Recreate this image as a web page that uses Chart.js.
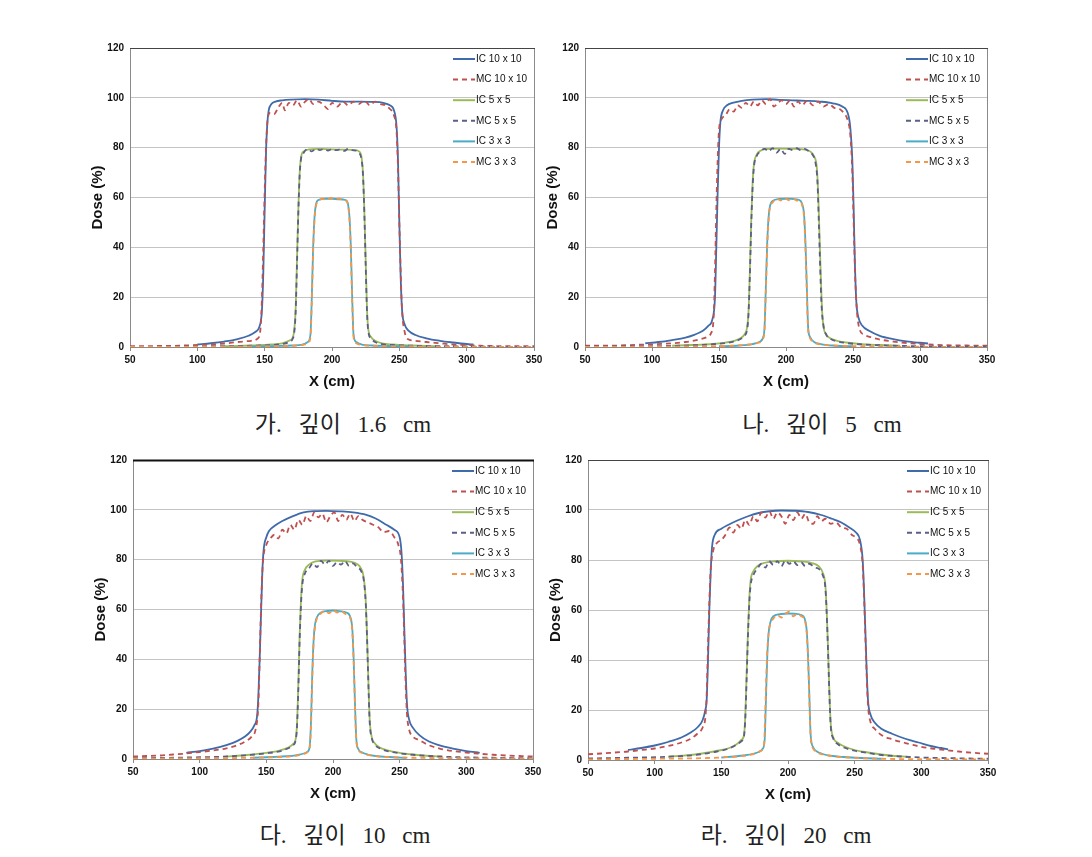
<!DOCTYPE html>
<html>
<head>
<meta charset="utf-8">
<script src="https://cdn.jsdelivr.net/npm/chart.js@4.4.1/dist/chart.umd.min.js"></script>
<style>
  body { margin: 0; background: #fff; width: 1092px; height: 857px; position: relative; overflow: hidden; }
  .panel { position: absolute; }
  .caption {
    position: absolute;
    font-family: 'Liberation Serif', 'Noto Sans CJK KR', serif;
    font-size: 23px;
    line-height: 28px;
    color: #222;
    word-spacing: 11px;
    white-space: nowrap;
    transform: translateX(-50%);
  }
</style>
</head>
<body>
<div class="panel" style="left:80px;top:36px"><canvas id="c1" width="470" height="360"></canvas></div>
<div class="panel" style="left:535px;top:36px"><canvas id="c2" width="468" height="360"></canvas></div>
<div class="panel" style="left:83px;top:448px"><canvas id="c3" width="466" height="360"></canvas></div>
<div class="panel" style="left:538px;top:448px"><canvas id="c4" width="466" height="361"></canvas></div>

<div class="caption" style="left:343px;top:411px">가. 깊이 1.6 cm</div>
<div class="caption" style="left:822px;top:411px">나. 깊이 5 cm</div>
<div class="caption" style="left:345px;top:822px">다. 깊이 10 cm</div>
<div class="caption" style="left:786px;top:822px">라. 깊이 20 cm</div>

<script>
// series names, colours and dash style
const seriesNames = ['IC 10 x 10', 'MC 10 x 10', 'IC 5 x 5', 'MC 5 x 5', 'IC 3 x 3', 'MC 3 x 3'];
const seriesColors = ['#3F6BAA', '#C0504D', '#9BBB59', '#5B5E86', '#4BACC6', '#F79646'];
const seriesDashed = [false, true, false, true, false, true];

const xTicks = [50, 100, 150, 200, 250, 300, 350];
const yTicks = [0, 20, 40, 60, 80, 100, 120];

// ---- depth 1.6 cm : [x (cm), dose (%)]
const ic10_16 = [[100,1],[110,1.5],[120,2.2],[130,3.2],[138,4.5],[143,6],[146,8],[148,15],[149,30],[150,55],[151,78],[152,90],[153,95],[155,97.5],[158,98.5],[163,99],[170,99.3],[180,99.5],[190,99.3],[200,98.8],[210,98.5],[220,98.5],[230,98.4],[238,98],[243,97],[246,95],[248,88],[249,75],[250,50],[251,28],[252,15],[254,9],[257,6.5],[262,4.8],[270,3.5],[280,2.5],[290,1.8],[300,1.2],[305,1]];
const mc10_16 = [[50,0.3],[60,0.3],[70,0.4],[80,0.4],[90,0.6],[100,0.8],[110,1],[120,1.4],[130,2],[140,2.5],[145,3.5],[147,8],[148,20],[149,40],[150,62],[151,80],[152,90],[154,94],[157,93.5],[160,96],[163,98],[165,95],[168,98],[171,97],[174,99],[177,96.5],[180,98.5],[183,99.5],[186,97.5],[190,98.5],[194,97],[197,95.5],[200,98],[204,96.5],[208,98.5],[212,97],[216,98.5],[220,97.5],[224,99],[228,97],[232,98.5],[236,97.5],[240,97],[243,95.5],[246,93],[248,86],[249,72],[250,50],[251,30],[252,15],[254,6],[257,3],[262,2.5],[270,2],[280,1.5],[290,1],[300,0.8],[310,0.5],[320,0.4],[335,0.3],[350,0.3]];
const ic5_16 = [[120,0.3],[140,0.6],[155,1],[163,1.5],[168,2.5],[171,4],[172,7],[173,15],[174,35],[175,55],[176,70],[177,76],[179,78.5],[183,79.3],[190,79.5],[200,79.3],[210,79.2],[217,79],[220,78.5],[222,76],[223,70],[224,55],[225,35],[226,15],[227,7],[229,4],[232,2.5],[237,1.5],[245,1],[260,0.6],[280,0.3]];
const mc5_16 = [[50,0],[80,0.1],[110,0.3],[140,0.5],[155,0.8],[163,1.2],[168,2],[171,3.5],[172,6],[173,14],[174,33],[175,54],[176,69],[177,75.5],[179,78],[182,79.5],[185,78.5],[188,79.5],[191,79],[194,79.5],[197,78.8],[200,79.5],[203,79],[206,79.3],[209,78.7],[212,79.5],[215,79],[218,78.8],[220,78],[222,75],[223,69],[224,54],[225,33],[226,14],[227,6],[229,3.5],[232,2],[237,1.2],[245,0.8],[260,0.5],[290,0.3],[320,0.1],[350,0]];
const ic3_16 = [[140,0.2],[160,0.4],[170,0.6],[178,1],[182,2],[184,5],[185,20],[186,40],[187,52],[188,57],[190,59],[195,59.5],[200,59.5],[205,59.3],[210,59],[212,57],[213,52],[214,40],[215,20],[216,5],[218,2],[222,1],[230,0.6],[240,0.4],[260,0.2]];
const mc3_16 = [[50,0],[100,0.1],[140,0.2],[165,0.4],[178,0.8],[182,1.5],[184,4],[185,18],[186,38],[187,51],[188,56.5],[190,58.5],[193,59.5],[196,59],[199,59.8],[202,59.2],[205,59.6],[208,59],[211,58.5],[212,56.5],[213,51],[214,38],[215,18],[216,4],[218,1.5],[222,0.8],[235,0.4],[260,0.2],[300,0.1],[350,0]];

// ---- depth 5 cm
const ic10_5 = [[95,1.5],[105,2],[115,2.8],[125,3.8],[132,5],[138,6.5],[142,8.5],[145,11],[147,20],[148,40],[149,62],[150,80],[151,90],[153,95],[156,97],[160,98],[167,98.8],[175,99.3],[185,99.5],[195,99.2],[205,99],[215,98.8],[225,98.5],[235,97.8],[242,96.5],[246,94],[248,88],[249.5,75],[250.5,55],[251.5,32],[252.5,18],[254,12],[257,8.5],[262,6.5],[270,4.5],[280,3.2],[290,2.3],[300,1.7],[306,1.4]];
const mc10_5 = [[50,0.5],[65,0.5],[80,0.7],[95,1],[110,1.3],[125,2],[135,3],[141,4],[144,5.5],[146,12],[147,30],[148,55],[149,75],[150,87],[152,91.5],[155,93],[158,95.5],[161,94.5],[164,97],[167,96],[170,98],[173,96.5],[176,98.5],[179,97],[182,99],[185,97.5],[188,99.5],[191,96.5],[194,98],[197,99],[200,97.5],[203,99],[206,96.5],[209,98.5],[212,97],[216,99],[220,97],[224,98.5],[228,96.5],[232,97.5],[236,96],[240,95.5],[243,94],[246,91],[248,85],[249.5,70],[250.5,50],[251.5,30],[253,14],[255,7],[258,5],[263,4],[270,3],[280,2.2],[290,1.6],[300,1.2],[310,0.9],[320,0.7],[335,0.6],[350,0.5]];
const ic5_5 = [[115,0.5],[130,0.8],[145,1.2],[155,1.8],[162,2.6],[166,3.5],[169,5],[171,8],[172,14],[173,30],[174,50],[175,65],[176,73],[178,77],[181,78.8],[186,79.5],[195,79.6],[205,79.5],[213,79.3],[218,78.5],[221,76.5],[223,72],[224,62],[225,45],[226,28],[227,14],[228,8],[230,5],[233,3.5],[238,2.5],[245,1.8],[255,1.2],[270,0.8],[285,0.5]];
const mc5_5 = [[50,0.1],[80,0.2],[110,0.4],[130,0.7],[145,1.1],[155,1.6],[162,2.3],[166,3.2],[169,4.5],[171,7],[172,13],[173,28],[174,48],[175,63],[176,72],[178,76.5],[181,78.5],[184,79.5],[187,78.5],[190,79.8],[193,78],[196,79.5],[199,77.5],[202,79.5],[205,79],[208,79.8],[211,79],[214,79.5],[217,78.5],[220,77],[222,74],[223.5,66],[224.5,50],[225.5,32],[226.5,17],[228,8.5],[230,5],[233,3.3],[238,2.3],[245,1.6],[255,1.1],[270,0.7],[290,0.4],[320,0.2],[350,0.1]];
const ic3_5 = [[150,0.3],[165,0.6],[175,1.2],[180,2],[183,4],[184,8],[185,25],[186,42],[187,52],[188,56.5],[190,58.6],[195,59.4],[200,59.5],[205,59.4],[210,59],[212,57.5],[213.5,53],[214.5,42],[215.5,25],[216.5,8],[218,4],[221,2],[226,1.2],[235,0.6],[250,0.3]];
const mc3_5 = [[50,0],[100,0.1],[140,0.3],[160,0.5],[172,1],[179,1.7],[183,3.5],[184,7],[185,23],[186,40],[187,51],[188,56],[190,58],[193,59.5],[196,58.8],[199,59.8],[202,59],[205,59.6],[208,58.8],[211,58.5],[212,57],[213.5,52],[214.5,40],[215.5,23],[216.5,7],[218,3.5],[221,1.8],[227,1],[240,0.5],[260,0.3],[300,0.1],[350,0]];

// ---- depth 10 cm
const ic10_10 = [[90,2.5],[100,3.2],[110,4.2],[120,5.6],[128,7.2],[134,9],[138,11],[141,13.5],[143,17],[144,25],[145,40],[146,58],[147,75],[148,84],[150,89],[152,91.5],[156,93.5],[162,95.5],[170,97.5],[178,99],[186,99.5],[195,99.6],[205,99.4],[215,99],[225,98],[232,96.5],[240,94],[246,92],[250,89],[251.5,82],[252.5,70],[253.5,52],[254.5,35],[255.5,22],[257,16],[260,12.5],[265,9.5],[272,7],[280,5.5],[290,4.2],[300,3.2],[310,2.5]];
const mc10_10 = [[50,1],[60,1.2],[70,1.4],[80,1.8],[90,2.2],[100,2.8],[110,3.4],[120,4.3],[128,5.5],[134,7],[139,9],[142,12],[144,22],[145,40],[146,60],[147,75],[148,82],[150,86],[153,88.5],[156,90],[159,88.5],[162,92],[165,90.5],[168,94],[171,92],[174,96],[177,94],[180,97.5],[183,95.5],[186,99],[189,97],[192,98.5],[195,95],[198,97.5],[201,99],[204,95.5],[207,98],[210,96],[213,98.5],[216,95.5],[219,97.5],[222,96],[226,95],[230,94],[234,93],[238,91],[242,91.5],[246,89],[249,86],[251,80],[252.5,65],[253.5,48],[254.5,30],[255.5,18],[257,12],[260,9],[265,7.5],[272,5.5],[280,4.2],[290,3.2],[300,2.6],[310,2.1],[320,1.7],[330,1.4],[340,1.2],[350,1]];
const ic5_10 = [[120,1],[135,1.6],[150,2.5],[160,3.4],[166,4.5],[170,6],[172,8],[173,14],[174,30],[175,50],[176,64],[177,72],[179,76],[182,78],[187,79.3],[195,79.6],[205,79.5],[213,79.2],[218,78.3],[221,76.5],[223,73],[224.5,64],[225.5,50],[226.5,32],[227.5,16],[229,9],[231,6.5],[235,4.6],[240,3.6],[250,2.5],[260,1.8],[270,1.3],[282,1]];
const mc5_10 = [[50,0.3],[80,0.5],[100,0.7],[120,1],[135,1.5],[150,2.3],[160,3.1],[166,4.2],[170,5.5],[172,7.5],[173,13],[174,28],[175,48],[176,62],[177,70],[179,74.5],[182,76.5],[185,78.5],[188,77],[191,79.5],[194,78],[197,79.5],[200,77.5],[203,79],[206,78],[209,79.5],[212,77.5],[215,78.5],[218,77],[221,75.5],[223,72],[224.5,63],[225.5,49],[226.5,31],[227.5,15],[229,8.5],[231,6],[235,4.3],[240,3.3],[250,2.3],[260,1.7],[275,1.1],[295,0.7],[320,0.5],[350,0.3]];
const ic3_10 = [[140,0.5],[155,0.8],[165,1.1],[173,1.6],[178,2.2],[181,3],[182.5,5],[183.5,15],[184.5,35],[185.5,48],[186.5,54],[188,57],[191,58.8],[196,59.4],[200,59.6],[205,59.3],[210,58.8],[213,57],[214.5,52],[215.5,40],[216.5,22],[217.5,8],[219,4],[222,2.6],[226,1.8],[232,1.2],[242,0.8],[255,0.5]];
const mc3_10 = [[50,0.1],[100,0.3],[140,0.5],[160,0.8],[172,1.3],[178,2],[181,2.8],[182.5,4.5],[183.5,13],[184.5,33],[185.5,47],[186.5,53],[188,56.5],[191,58.5],[194,59.5],[197,58.5],[200,59.8],[203,58.8],[206,59.5],[209,58.3],[212,57.5],[213,56.5],[214.5,51],[215.5,39],[216.5,21],[217.5,7.5],[219,3.8],[222,2.4],[228,1.5],[240,0.8],[260,0.5],[300,0.3],[350,0.1]];

// ---- depth 20 cm
const ic10_20 = [[80,4],[90,4.8],[100,5.8],[110,7.2],[120,9],[127,11],[132,13],[136,16],[138,20],[139,24],[140,40],[141,60],[142,75],[143,85],[145,90],[150,92.5],[155,94],[162,95.8],[170,97.5],[178,98.8],[186,99.5],[195,99.8],[205,99.7],[215,99.2],[225,98],[233,96.5],[240,95],[246,93],[251,91],[254,88],[256,80],[257,68],[258,52],[259,36],[260,24],[262,18],[265,15],[270,12.5],[278,10.5],[288,8.5],[298,7],[308,5.5],[315,4.8],[320,4.2]];
const mc10_20 = [[50,2.3],[60,2.6],[70,3],[80,3.4],[90,4],[100,4.6],[110,5.6],[120,7],[127,8.5],[132,10.5],[136,13],[138,17],[139,26],[140,45],[141,63],[142,76],[144,84],[147,87],[150,88],[153,90],[156,93],[159,91],[162,94],[165,92.5],[168,96],[171,94],[174,97.5],[177,95.5],[180,99],[183,97],[186,99.5],[189,96.5],[192,99],[195,97.5],[198,94.5],[201,98],[204,96],[207,99],[210,96.5],[213,98.5],[216,95],[219,94.5],[222,97.5],[225,95.5],[228,96.5],[232,94.5],[236,95],[240,93],[244,92.5],[248,90],[251,89],[254,86],[256,78],[257,66],[258,50],[259,34],[260,22],[262,15],[265,12.5],[270,10],[278,8.3],[288,6.8],[298,5.5],[308,4.6],[318,4],[328,3.4],[338,2.9],[350,2.5]];
const ic5_20 = [[110,1.3],[120,1.7],[130,2.2],[140,3],[150,4],[157,5],[162,6.5],[165,8],[167,10],[168,18],[169,35],[170,52],[171,65],[172,72],[174,75.5],[177,77.5],[182,78.8],[190,79.5],[200,79.7],[210,79.4],[218,78.8],[223,77.5],[226,75],[228,70],[229,60],[230,45],[231,28],[232,15],[234,9],[237,7],[242,5.5],[250,4],[260,3],[270,2.2],[280,1.6],[292,1.2]];
const mc5_20 = [[50,0.6],[80,0.9],[110,1.3],[130,2],[145,3.2],[155,4.5],[161,6],[165,7.5],[167,9.5],[168,17],[169,33],[170,50],[171,63],[172,70],[174,74],[177,76.5],[180,78.5],[183,77],[186,79.5],[189,78],[192,79.5],[195,77.5],[198,79.8],[201,78.5],[204,79.5],[207,78],[210,79],[213,77.5],[216,78.5],[220,77],[223,76.5],[226,74],[228,69],[229,59],[230,44],[231,27],[232,14],[234,8.5],[237,6.5],[242,5],[250,3.7],[260,2.8],[270,2],[285,1.4],[300,1],[325,0.7],[350,0.5]];
const ic3_20 = [[150,1],[160,1.4],[168,1.9],[174,2.5],[178,3.2],[181,4.5],[182.5,8],[183.5,25],[184.5,42],[185.5,51],[187,55.5],[189,57.5],[195,58.4],[200,58.6],[205,58.5],[210,58],[212.5,56.5],[214,52],[215,42],[216,26],[217,10],[219,5],[222,3.3],[226,2.4],[232,1.7],[242,1.2],[255,0.8],[270,0.5]];
const mc3_20 = [[50,0.2],[100,0.5],[140,0.8],[160,1.3],[170,1.9],[176,2.7],[180,3.8],[182,6],[183,20],[184,38],[185,48],[186.5,54],[189,56.5],[192,58],[195,57],[198,58.5],[201,59.3],[204,57.5],[207,58.5],[210,57.5],[212.5,56],[214,51],[215,41],[216,25],[217,9],[219,4.5],[222,3],[227,2.1],[235,1.4],[248,0.9],[270,0.5],[310,0.3],[350,0.2]];

const tickFont = { family: "'Liberation Sans Narrow', 'Liberation Sans', Arial, sans-serif", size: 10, weight: 'bold' };
const titleFont = { family: "'Liberation Sans', Arial, sans-serif", size: 15, weight: 'bold' };

// plot frame (top + right edges as well)
const plotFrame = {
    id: 'plotFrame',
    beforeDatasetsDraw(chart, args, opts) {
        const { ctx, chartArea: a } = chart;
        ctx.save();
        ctx.strokeStyle = '#8A8A8A';
        ctx.lineWidth = 1;
        ctx.strokeRect(a.left + 0.5, a.top + 0.5, a.right - a.left, a.bottom - a.top);
        ctx.strokeStyle = opts.topColor || '#444';
        ctx.lineWidth = opts.topWidth || 1;
        ctx.beginPath();
        ctx.moveTo(a.left, a.top + 0.5);
        ctx.lineTo(a.right + 1, a.top + 0.5);
        ctx.stroke();
        ctx.restore();
    }
};

// legend drawn inside the plot, top right
const innerLegend = {
    id: 'innerLegend',
    afterDatasetsDraw(chart) {
        const { ctx, chartArea: a } = chart;
        ctx.save();
        ctx.font = "10px 'Liberation Sans Narrow', 'Liberation Sans', Arial, sans-serif";
        ctx.textBaseline = 'middle';
        chart.data.datasets.forEach((ds, i) => {
            const y = a.top + 11 + i * 20.6;
            const x0 = a.right - 81;
            ctx.strokeStyle = ds.borderColor;
            ctx.lineWidth = 2;
            ctx.setLineDash(ds.borderDash);
            ctx.beginPath();
            ctx.moveTo(x0, y);
            ctx.lineTo(x0 + 22, y);
            ctx.stroke();
            ctx.setLineDash([]);
            ctx.fillStyle = '#111';
            ctx.fillText(ds.label, x0 + 23, y);
        });
        ctx.restore();
    }
};

function makeChart(canvasId, series, frame) {
    const datasets = series.map((pts, i) => ({
        label: seriesNames[i],
        data: pts.map(p => ({ x: p[0], y: p[1] })),
        borderColor: seriesColors[i],
        borderWidth: 1.8,
        borderDash: seriesDashed[i] ? [5, 4] : [],
        pointRadius: 0,
        showLine: true,
        fill: false,
        cubicInterpolationMode: 'monotone',
        order: seriesNames.length - i
    }));

    new Chart(document.getElementById(canvasId), {
        type: 'scatter',
        data: { datasets },
        options: {
            responsive: false,
            animation: false,
            layout: { padding: { top: 10, right: 16, bottom: 5, left: 0 } },
            plugins: {
                legend: { display: false },
                tooltip: { enabled: false },
                plotFrame: frame || {}
            },
            scales: {
                x: {
                    type: 'linear',
                    min: xTicks[0],
                    max: xTicks[xTicks.length - 1],
                    afterBuildTicks: s => { s.ticks = xTicks.map(v => ({ value: v })); },
                    afterFit: s => { s.height = 44; },
                    grid: { drawOnChartArea: false, tickLength: 4, color: '#8A8A8A' },
                    border: { color: '#8A8A8A' },
                    ticks: { font: tickFont, color: '#111', padding: 3, maxRotation: 0 },
                    title: { display: true, text: 'X (cm)', font: titleFont, color: '#111', padding: { top: 5, bottom: 0 } }
                },
                y: {
                    min: yTicks[0],
                    max: yTicks[yTicks.length - 1],
                    afterBuildTicks: s => { s.ticks = yTicks.map(v => ({ value: v })); },
                    afterFit: s => { s.width = 50; },
                    grid: { color: '#C4C4C4', drawTicks: false },
                    border: { color: '#8A8A8A' },
                    ticks: { font: tickFont, color: '#111', padding: 6 },
                    title: { display: true, text: 'Dose (%)', font: titleFont, color: '#111', padding: { top: 9, bottom: 0 } }
                }
            }
        },
        plugins: [plotFrame, innerLegend]
    });
}

makeChart('c1', [ic10_16, mc10_16, ic5_16, mc5_16, ic3_16, mc3_16]);
makeChart('c2', [ic10_5, mc10_5, ic5_5, mc5_5, ic3_5, mc3_5]);
makeChart('c3', [ic10_10, mc10_10, ic5_10, mc5_10, ic3_10, mc3_10], { topColor: '#111', topWidth: 2 });
makeChart('c4', [ic10_20, mc10_20, ic5_20, mc5_20, ic3_20, mc3_20]);
</script>
</body>
</html>
